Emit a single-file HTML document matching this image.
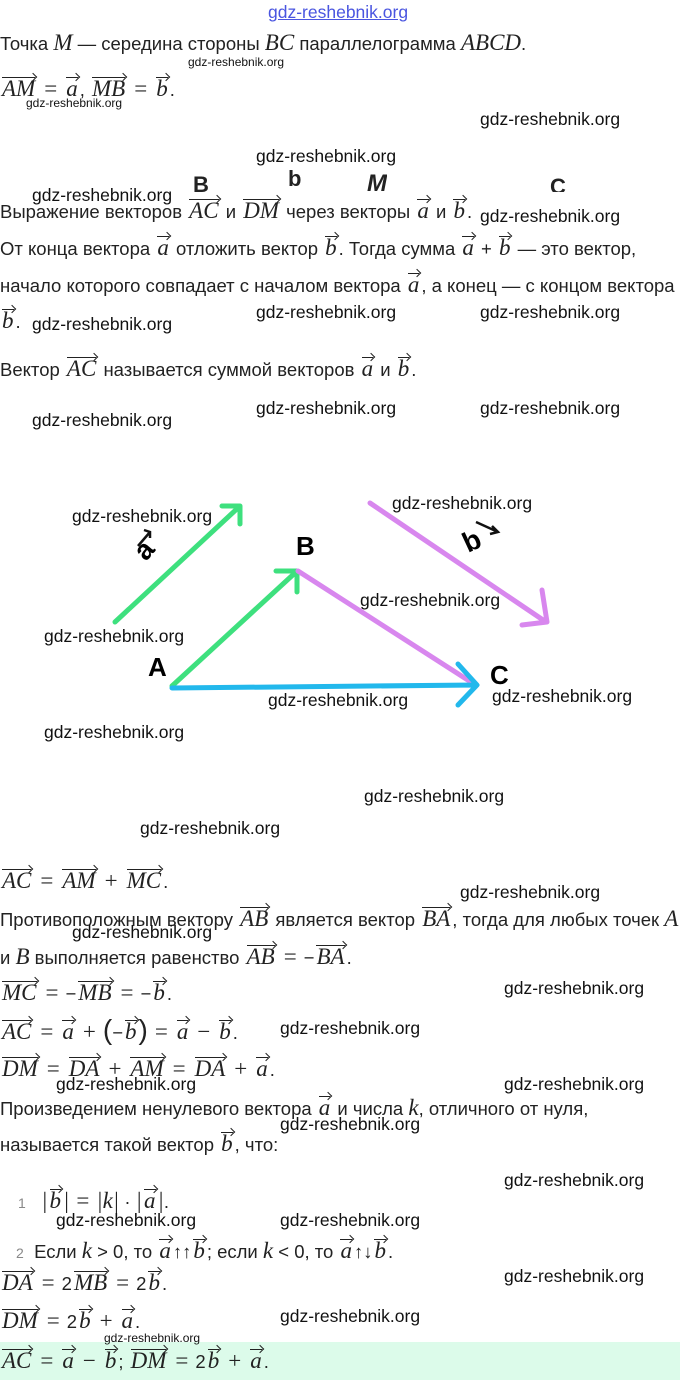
<!DOCTYPE html>
<html><head><meta charset="utf-8">
<style>
body{margin:0;width:680px;height:1380px;position:relative;background:#fff;font-family:"Liberation Sans",sans-serif;color:#222;overflow:hidden}
.l{position:absolute;left:0;font-size:18.5px;white-space:nowrap;line-height:22px}
.m{font-family:"Liberation Serif",serif;font-style:italic;font-size:23px}
.e{font-family:"Liberation Serif",serif;font-size:23px;margin:0 7px}
.v{display:inline-block;position:relative;border-top:1px solid #222;padding-top:1px;line-height:20px;font-family:"Liberation Serif",serif;font-style:italic;font-size:23px;margin:0 2px}
.v:after{content:"";position:absolute;right:-1px;top:-4px;width:5px;height:5px;border-top:1px solid #222;border-right:1px solid #222;transform:rotate(45deg)}
.w{position:absolute;font-size:17.5px;color:#111;white-space:nowrap}
.ws{position:absolute;font-size:12px;color:#111;white-space:nowrap}
</style></head><body>
<div style="position:absolute;left:0;top:1342px;width:680px;height:38px;background:#dcfbea"></div>
<div class="w" style="left:268px;top:2px;color:#4a55e0;text-decoration:underline">gdz-reshebnik.org</div>
<div class="l" style="top:32px">Точка <span class="m">M</span> — середина стороны <span class="m">BC</span> параллелограмма <span class="m">ABCD</span>.</div>
<div class="l" style="top:77px"><span class="v">AM</span><span class="e">=</span><span class="v">a</span>, <span class="v">MB</span><span class="e">=</span><span class="v">b</span>.</div>
<div class="ws" style="left:188px;top:55px">gdz-reshebnik.org</div>
<div class="ws" style="left:26px;top:96px">gdz-reshebnik.org</div>
<div class="w" style="left:480px;top:109px">gdz-reshebnik.org</div>
<div class="w" style="left:256px;top:146px">gdz-reshebnik.org</div>
<div style="position:absolute;left:193px;top:172px;font:bold 22px 'Liberation Sans';height:20px;overflow:hidden">B</div>
<div style="position:absolute;left:288px;top:166px;font:bold 22px 'Liberation Sans';height:26px;overflow:hidden">b</div>
<div style="position:absolute;left:367px;top:170px;font:bold italic 24px 'Liberation Sans';height:22px;overflow:hidden">M</div>
<div style="position:absolute;left:550px;top:174px;font:bold 22px 'Liberation Sans';height:18px;overflow:hidden">C</div>
<div class="w" style="left:32px;top:185px">gdz-reshebnik.org</div>
<div class="l" style="top:199px">Выражение векторов <span class="v">AC</span> и <span class="v">DM</span> через векторы <span class="v">a</span> и <span class="v">b</span>.</div>
<div class="w" style="left:480px;top:206px">gdz-reshebnik.org</div>
<div class="l" style="top:236px">От конца вектора <span class="v">a</span> отложить вектор <span class="v">b</span>. Тогда сумма <span class="v">a</span> + <span class="v">b</span> — это вектор,</div>
<div class="l" style="top:273px">начало которого совпадает с началом вектора <span class="v">a</span>, а конец — с концом вектора</div>
<div class="l" style="top:309px"><span class="v">b</span>.</div>
<div class="w" style="left:32px;top:314px">gdz-reshebnik.org</div>
<div class="w" style="left:256px;top:302px">gdz-reshebnik.org</div>
<div class="w" style="left:480px;top:302px">gdz-reshebnik.org</div>
<div class="l" style="top:357px">Вектор <span class="v">AC</span> называется суммой векторов <span class="v">a</span> и <span class="v">b</span>.</div>
<div class="w" style="left:256px;top:398px">gdz-reshebnik.org</div>
<div class="w" style="left:480px;top:398px">gdz-reshebnik.org</div>
<div class="w" style="left:32px;top:410px">gdz-reshebnik.org</div>

<svg style="position:absolute;left:0;top:0" width="680" height="1380">
<g fill="none" stroke-width="5" stroke-linecap="round" stroke-linejoin="round">
<g stroke="#3ee07e"><path d="M115 622L240 506M222 506H240V524"/><path d="M172 686L296 572M276 571H297V592"/></g>
<g stroke="#d887ee"><path d="M370 503L546 622M542 590L547 622L522 625"/><path d="M298 571L474 684"/></g>
<g stroke="#22b8ec"><path d="M172 688L476 685M458 664L477 685L458 705"/></g>
</g>
<text x="148" y="676" font-family="Liberation Sans" font-weight="bold" font-size="26">A</text>
<text x="296" y="555" font-family="Liberation Sans" font-weight="bold" font-size="26">B</text>
<text x="490" y="684" font-family="Liberation Sans" font-weight="bold" font-size="26">C</text>
<text x="0" y="0" font-family="Liberation Sans" font-weight="bold" font-size="28" transform="translate(146,562) rotate(-50)">a</text>
<text x="0" y="0" font-family="Liberation Sans" font-weight="bold" font-size="28" transform="translate(468,553) rotate(-25)">b</text>
<path d="M138 546L150 532M144 530L150 532L150 538" stroke="#111" stroke-width="2.5" fill="none"/>
<path d="M476 522L498 532M492 526L498 532L490 534" stroke="#111" stroke-width="2.5" fill="none"/>
</svg>
<div class="w" style="left:72px;top:506px">gdz-reshebnik.org</div>
<div class="w" style="left:392px;top:493px">gdz-reshebnik.org</div>
<div class="w" style="left:360px;top:590px">gdz-reshebnik.org</div>
<div class="w" style="left:44px;top:626px">gdz-reshebnik.org</div>
<div class="w" style="left:268px;top:690px">gdz-reshebnik.org</div>
<div class="w" style="left:492px;top:686px">gdz-reshebnik.org</div>
<div class="w" style="left:44px;top:722px">gdz-reshebnik.org</div>
<div class="w" style="left:364px;top:786px">gdz-reshebnik.org</div>
<div class="w" style="left:140px;top:818px">gdz-reshebnik.org</div>

<div class="l" style="top:869px"><span class="v">AC</span><span class="e">=</span><span class="v">AM</span><span class="e">+</span><span class="v">MC</span>.</div>
<div class="w" style="left:460px;top:882px">gdz-reshebnik.org</div>
<div class="l" style="top:907px">Противоположным вектору <span class="v">AB</span> является вектор <span class="v">BA</span>, тогда для любых точек <span class="m">A</span></div>
<div class="w" style="left:72px;top:922px">gdz-reshebnik.org</div>
<div class="l" style="top:945px">и <span class="m">B</span> выполняется равенство <span class="v">AB</span><span class="e">=</span>−<span class="v">BA</span>.</div>
<div class="l" style="top:981px"><span class="v">MC</span><span class="e">=</span>−<span class="v">MB</span><span class="e">=</span>−<span class="v">b</span>.</div>
<div class="w" style="left:504px;top:978px">gdz-reshebnik.org</div>
<div class="l" style="top:1019px"><span class="v">AC</span><span class="e">=</span><span class="v">a</span><span class="e">+</span><span style="font-size:28px">(</span>−<span class="v">b</span><span style="font-size:28px">)</span><span class="e">=</span><span class="v">a</span><span class="e">−</span><span class="v">b</span>.</div>
<div class="w" style="left:280px;top:1018px">gdz-reshebnik.org</div>
<div class="l" style="top:1057px"><span class="v">DM</span><span class="e">=</span><span class="v">DA</span><span class="e">+</span><span class="v">AM</span><span class="e">=</span><span class="v">DA</span><span class="e">+</span><span class="v">a</span>.</div>
<div class="w" style="left:56px;top:1074px">gdz-reshebnik.org</div>
<div class="w" style="left:504px;top:1074px">gdz-reshebnik.org</div>
<div class="l" style="top:1096px">Произведением ненулевого вектора <span class="v">a</span> и числа <span class="m">k</span>, отличного от нуля,</div>
<div class="w" style="left:280px;top:1114px">gdz-reshebnik.org</div>
<div class="l" style="top:1132px">называется такой вектор <span class="v">b</span>, что:</div>
<div class="w" style="left:504px;top:1170px">gdz-reshebnik.org</div>
<div class="l" style="top:1189px;left:18px"><span style="color:#888;font-size:14px">1</span> &nbsp;&nbsp;<span class="m">|</span><span class="v">b</span><span class="m">|</span><span class="e">=</span><span class="m">|k|</span> · <span class="m">|</span><span class="v">a</span><span class="m">|</span>.</div>
<div class="w" style="left:56px;top:1210px">gdz-reshebnik.org</div>
<div class="w" style="left:280px;top:1210px">gdz-reshebnik.org</div>
<div class="l" style="top:1239px;left:16px"><span style="color:#888;font-size:14px">2</span> &nbsp;Если <span class="m">k</span> &gt; 0, то <span class="v">a</span>↑↑<span class="v">b</span>; если <span class="m">k</span> &lt; 0, то <span class="v">a</span>↑↓<span class="v">b</span>.</div>
<div class="l" style="top:1271px"><span class="v">DA</span><span class="e">=</span>2<span class="v">MB</span><span class="e">=</span>2<span class="v">b</span>.</div>
<div class="w" style="left:504px;top:1266px">gdz-reshebnik.org</div>
<div class="l" style="top:1309px"><span class="v">DM</span><span class="e">=</span>2<span class="v">b</span><span class="e">+</span><span class="v">a</span>.</div>
<div class="w" style="left:280px;top:1306px">gdz-reshebnik.org</div>
<div class="ws" style="left:104px;top:1331px">gdz-reshebnik.org</div>
<div class="l" style="top:1349px"><span class="v">AC</span><span class="e">=</span><span class="v">a</span><span class="e">−</span><span class="v">b</span>; <span class="v">DM</span><span class="e">=</span>2<span class="v">b</span><span class="e">+</span><span class="v">a</span>.</div>
</body></html>
